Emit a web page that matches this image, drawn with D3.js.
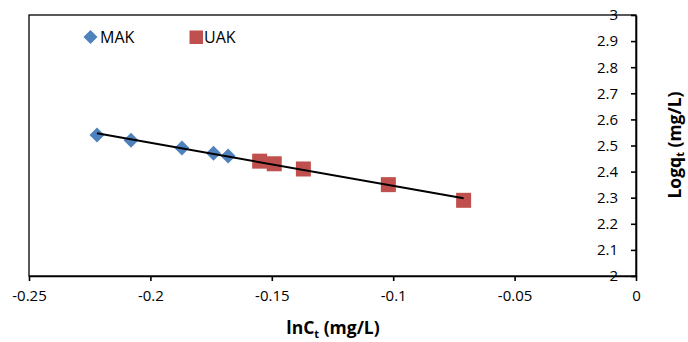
<!DOCTYPE html>
<html><head><meta charset="utf-8">
<script src="https://cdn.jsdelivr.net/npm/d3@7"></script>
<style>body{margin:0;background:#fff} svg{display:block} text{font-family:"Open Sans",sans-serif;fill:#000}</style>
</head><body><svg id="c" width="688" height="342"></svg>
<script>
const seriesNames = ["MAK", "UAK"];
const makX = [-0.222, -0.208, -0.187, -0.174, -0.168];
const makY = [2.54, 2.52, 2.49, 2.47, 2.46];
const uakX = [-0.155, -0.149, -0.137, -0.102, -0.071];
const uakY = [2.44, 2.43, 2.41, 2.35, 2.29];
const xTicks = [-0.25, -0.2, -0.15, -0.1, -0.05, 0];
const xTickLabels = ["-0.25", "-0.2", "-0.15", "-0.1", "-0.05", "0"];
const yTicks = [2, 2.1, 2.2, 2.3, 2.4, 2.5, 2.6, 2.7, 2.8, 2.9, 3];
const yTickLabels = ["2", "2.1", "2.2", "2.3", "2.4", "2.5", "2.6", "2.7", "2.8", "2.9", "3"];
const xTitle = "lnC", xSub = "t", xTitleRest = " (mg/L)";
const yTitle = "Logq", ySub = "t", yTitleRest = " (mg/L)";

const colors = {MAK: "#4F81BD", UAK: "#C0504D"};
const svg = d3.select("#c");
svg.append("rect").attr("width", 688).attr("height", 342).attr("fill", "#fff");

const L = 29, R = 636, T = 15, B = 276;
const x = d3.scaleLinear().domain([-0.25, 0]).range([L, R]);
const y = d3.scaleLinear().domain([2, 3]).range([B, T]);

// plot border
svg.append("rect").attr("x", L).attr("y", T).attr("width", R - L).attr("height", B - T)
  .attr("fill", "none").attr("stroke", "#000").attr("stroke-width", 1.3);

// x axis
const xa = svg.append("g").attr("transform", `translate(0,${B})`)
  .call(d3.axisBottom(x).tickValues(xTicks).tickSize(5).tickSizeOuter(0).tickPadding(9)
    .tickFormat((d, i) => xTickLabels[i]));
xa.selectAll("path,line").attr("stroke", "#000").attr("stroke-width", 1.6);
xa.selectAll("text").attr("font-size", 15).attr("font-family", "Open Sans");

// y axis at x=0 (right)
const ya = svg.append("g").attr("transform", `translate(${x(0)},0)`)
  .call(d3.axisLeft(y).tickValues(yTicks).tickSize(5).tickSizeOuter(0).tickPadding(13)
    .tickFormat((d, i) => yTickLabels[i]));
ya.selectAll("path,line").attr("stroke", "#000").attr("stroke-width", 1.6);
ya.selectAll("text").attr("font-size", 15).attr("font-family", "Open Sans");

// trendline (least squares over all points)
const allX = makX.concat(uakX), allY = makY.concat(uakY);
const mx = d3.mean(allX), my = d3.mean(allY);
const slope = d3.sum(allX.map((v, i) => (v - mx) * (allY[i] - my))) / d3.sum(allX.map(v => (v - mx) ** 2));
const icpt = my - slope * mx;
const x0 = d3.min(allX), x1 = d3.max(allX);

// markers
const diamond = s => `M0,${-s}L${s},0L0,${s}L${-s},0Z`;
svg.append("g").selectAll("path").data(makX.map((v, i) => [v, makY[i]])).join("path")
  .attr("d", diamond(7.5)).attr("transform", d => `translate(${x(d[0])},${y(d[1])})`)
  .attr("fill", colors.MAK);
svg.append("g").selectAll("rect").data(uakX.map((v, i) => [v, uakY[i]])).join("rect")
  .attr("x", d => x(d[0]) - 7.5).attr("y", d => y(d[1]) - 7.5).attr("width", 15).attr("height", 15)
  .attr("fill", colors.UAK);

svg.append("line").attr("x1", x(x0)).attr("y1", y(icpt + slope * x0))
  .attr("x2", x(x1)).attr("y2", y(icpt + slope * x1))
  .attr("stroke", "#000").attr("stroke-width", 2);

// legend
const lg = svg.append("g");
lg.append("path").attr("d", diamond(7)).attr("transform", "translate(90.5,37)").attr("fill", colors.MAK);
lg.append("text").attr("x", 100).attr("y", 37).attr("dy", "0.35em").attr("font-size", 16).text(seriesNames[0]);
lg.append("rect").attr("x", 189.5).attr("y", 30.5).attr("width", 13.5).attr("height", 13.5).attr("fill", colors.UAK);
lg.append("text").attr("x", 204).attr("y", 37).attr("dy", "0.35em").attr("font-size", 16).text(seriesNames[1]);

// axis titles
const xt = svg.append("text").attr("x", 333).attr("y", 334).attr("text-anchor", "middle")
  .attr("font-size", 17.5).attr("font-weight", "bold");
xt.append("tspan").text(xTitle);
xt.append("tspan").attr("font-size", 11).attr("dy", 4).text(xSub);
xt.append("tspan").attr("dy", -4).text(xTitleRest);

const yt = svg.append("text").attr("transform", "translate(681,145) rotate(-90)").attr("text-anchor", "middle")
  .attr("font-size", 17.5).attr("font-weight", "bold");
yt.append("tspan").text(yTitle);
yt.append("tspan").attr("font-size", 11).attr("dy", 3).text(ySub);
yt.append("tspan").attr("dy", -3).text(yTitleRest);
</script></body></html>
